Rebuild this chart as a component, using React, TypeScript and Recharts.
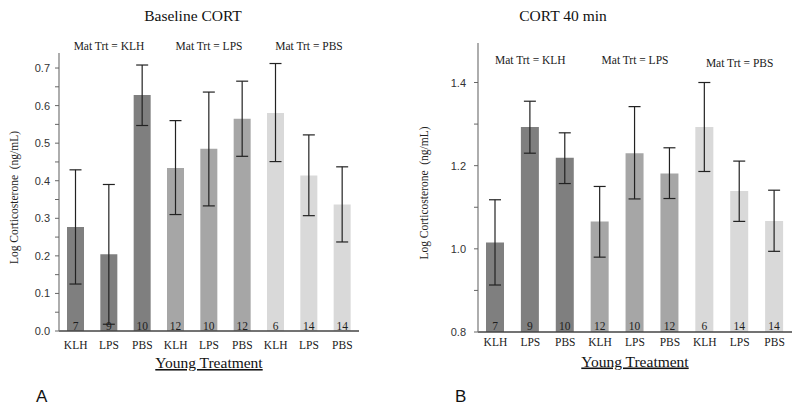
import React from 'react';
import { BarChart, Bar, XAxis, YAxis, ErrorBar, Cell, LabelList } from 'recharts';

const treatments = ['KLH', 'LPS', 'PBS', 'KLH', 'LPS', 'PBS', 'KLH', 'LPS', 'PBS'];
const matGroups = ['Mat Trt = KLH', 'Mat Trt = LPS', 'Mat Trt = PBS'];
const sampleSizes = [7, 9, 10, 12, 10, 12, 6, 14, 14];

// panel A: baseline CORT
const baselineMean = [0.277, 0.204, 0.628, 0.434, 0.485, 0.565, 0.58, 0.414, 0.337];
const baselineLow = [0.125, 0.018, 0.547, 0.31, 0.333, 0.465, 0.451, 0.307, 0.237];
const baselineHigh = [0.429, 0.39, 0.708, 0.56, 0.636, 0.665, 0.712, 0.522, 0.437];
const baselineTicks = [0, 0.05, 0.1, 0.15, 0.2, 0.25, 0.3, 0.35, 0.4, 0.45, 0.5, 0.55, 0.6, 0.65, 0.7];

// panel B: CORT 40 min
const cortMean = [1.015, 1.293, 1.219, 1.066, 1.23, 1.181, 1.293, 1.139, 1.067];
const cortLow = [0.913, 1.23, 1.157, 0.98, 1.12, 1.121, 1.186, 1.066, 0.994];
const cortHigh = [1.118, 1.355, 1.279, 1.15, 1.342, 1.243, 1.4, 1.211, 1.141];
const cortTicks = [0.8, 0.9, 1.0, 1.1, 1.2, 1.3, 1.4];

const GROUP_COLORS = ['#7f7f7f', '#a6a6a6', '#d9d9d9'];
const SERIF = '"Liberation Serif", "Times New Roman", serif';
const SANS = '"Liberation Sans", Arial, sans-serif';

const buildRows = (mean: number[], low: number[], high: number[]) =>
  mean.map((m, i) => ({
    key: `c${i}`,
    value: m,
    err: [m - low[i], high[i] - m],
    n: sampleSizes[i],
  }));

interface PanelProps {
  rows: ReturnType<typeof buildRows>;
  ticks: number[];
  domain: [number, number];
  yWidth: number;
  margin: { top: number; right: number; bottom: number; left: number };
  barSize: number;
  labelGap: number;
  groupY: number[];
  tickLabelY: number;
  xTitleY: number;
  isMajor: (v: number) => boolean;
}

function Panel({ rows, ticks, domain, yWidth, margin, barSize, labelGap, groupY, tickLabelY, xTitleY, isMajor }: PanelProps) {
  const axisX = margin.left + yWidth;

  const renderXTick = (p: any) => {
    const idx = p.index;
    return (
      <g>
        <text x={p.x} y={tickLabelY} textAnchor="middle" fontFamily={SERIF} fontSize={11.5} fill="#1a1a1a">
          {treatments[idx]}
        </text>
        {idx % 3 === 1 && (
          <text x={p.x} y={groupY[Math.floor(idx / 3)]} textAnchor="middle" fontFamily={SERIF} fontSize={11.5} fill="#1a1a1a">
            {matGroups[Math.floor(idx / 3)]}
          </text>
        )}
      </g>
    );
  };

  const renderYTick = (p: any) => {
    const v = p.payload.value;
    const major = isMajor(v);
    return (
      <g>
        <line x1={axisX - 4} x2={axisX} y1={p.y} y2={p.y} stroke="#666" strokeWidth={1} />
        {major && (
          <text x={axisX - labelGap} y={p.y} dy={4} textAnchor="end" fontFamily={SANS} fontSize={11} fill="#333">
            {v.toFixed(1)}
          </text>
        )}
      </g>
    );
  };

  const renderXTitle = (p: any) => {
    const vb = p.viewBox;
    return (
      <text
        x={vb.x + vb.width / 2}
        y={xTitleY}
        textAnchor="middle"
        fontFamily={SERIF}
        fontSize={15.5}
        fill="#111"
        style={{ textDecoration: 'underline' }}
      >
        Young Treatment
      </text>
    );
  };

  const renderN = (p: any) => (
    <text x={Number(p.x) + Number(p.width) / 2} y={330} textAnchor="middle" fontFamily={SERIF} fontSize={11.5} fill="#1e1e1e">
      {p.value}
    </text>
  );

  return (
    <BarChart width={400} height={410} data={rows} margin={margin}>
      <XAxis
        dataKey="key"
        height={40}
        interval={0}
        tickLine={false}
        axisLine={{ stroke: '#444', strokeWidth: 1.5 }}
        tick={renderXTick}
        label={{ content: renderXTitle }}
      />
      <YAxis
        type="number"
        width={yWidth}
        domain={domain}
        ticks={ticks}
        interval={0}
        allowDataOverflow
        tickLine={false}
        axisLine={{ stroke: '#777', strokeWidth: 1.2 }}
        tick={renderYTick}
      />
      <Bar dataKey="value" barSize={barSize} isAnimationActive={false}>
        {rows.map((r, i) => (
          <Cell key={r.key} fill={GROUP_COLORS[Math.floor(i / 3)]} />
        ))}
        <ErrorBar dataKey="err" width={6} stroke="#222" strokeWidth={1.2} direction="y" isAnimationActive={false} />
        <LabelList dataKey="n" content={renderN} />
      </Bar>
    </BarChart>
  );
}

export default function App() {
  const baselineRows = buildRows(baselineMean, baselineLow, baselineHigh);
  const cortRows = buildRows(cortMean, cortLow, cortHigh);

  return (
    <div style={{ position: 'absolute', left: 0, top: 0, width: 800, height: 410, background: '#fff', overflow: 'hidden' }}>
      <div style={{ position: 'absolute', left: 0, top: 0 }}>
        <Panel
          rows={baselineRows}
          ticks={baselineTicks}
          domain={[0, 0.74]}
          yWidth={59}
          margin={{ top: 53, right: 41, bottom: 39, left: 0 }}
          barSize={17}
          labelGap={9}
          groupY={[49.5, 49.5, 49.5]}
          tickLabelY={349}
          xTitleY={368}
          isMajor={(v) => Math.round(v * 100) % 10 === 0}
        />
      </div>
      <div style={{ position: 'absolute', left: 400, top: 0 }}>
        <Panel
          rows={cortRows}
          ticks={cortTicks}
          domain={[0.8, 1.495]}
          yWidth={78}
          margin={{ top: 43, right: 8, bottom: 38, left: 0 }}
          barSize={18}
          labelGap={12}
          groupY={[64, 64, 67]}
          tickLabelY={346}
          xTitleY={366.5}
          isMajor={(v) => Math.round(v * 10) % 2 === 0}
        />
      </div>
      <svg width={800} height={410} style={{ position: 'absolute', left: 0, top: 0, pointerEvents: 'none' }}>
        <text x={193} y={20.5} textAnchor="middle" fontFamily={SERIF} fontSize={15.5} fill="#111">
          Baseline CORT
        </text>
        <text x={563} y={20.5} textAnchor="middle" fontFamily={SERIF} fontSize={15.5} fill="#111">
          CORT 40 min
        </text>
        <text
          transform="translate(14,197.5) rotate(-90)"
          dy={4}
          textAnchor="middle"
          fontFamily={SERIF}
          fontSize={11.5}
          fill="#222"
          style={{ whiteSpace: 'pre' }}
        >
          {'Log Corticosterone  (ng/mL)'}
        </text>
        <text
          transform="translate(424,193) rotate(-90)"
          dy={4}
          textAnchor="middle"
          fontFamily={SERIF}
          fontSize={11.5}
          fill="#222"
          style={{ whiteSpace: 'pre' }}
        >
          {'Log Corticosterone  (ng/mL)'}
        </text>
        <text x={36} y={401.5} fontFamily={SANS} fontSize={17} fill="#111">
          A
        </text>
        <text x={455} y={401.5} fontFamily={SANS} fontSize={17} fill="#111">
          B
        </text>
      </svg>
    </div>
  );
}
